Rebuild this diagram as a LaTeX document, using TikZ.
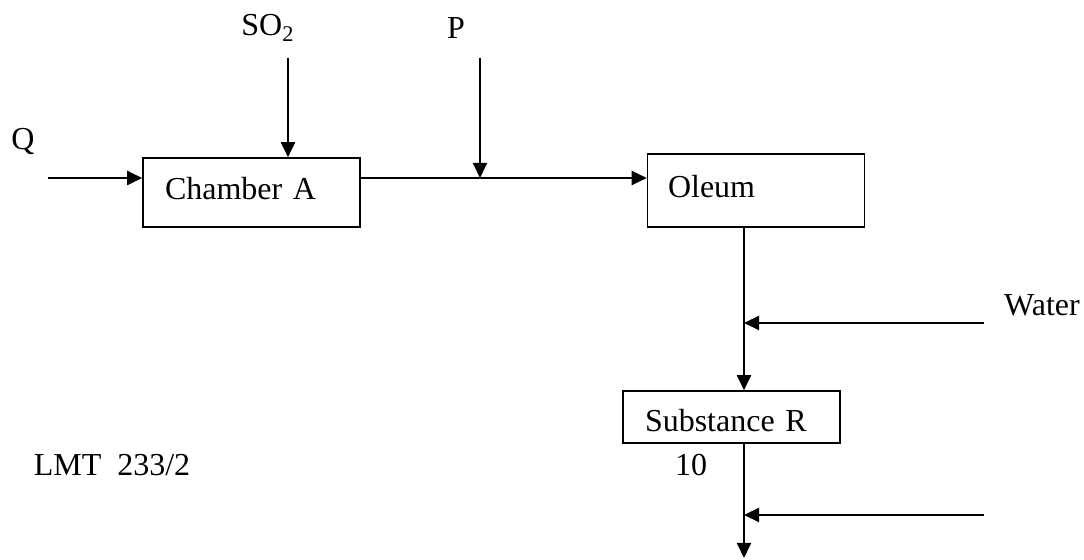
\documentclass[tikz,border=0pt]{standalone}
\usepackage{fontspec}
\setmainfont{Liberation Serif}
\usetikzlibrary{positioning,arrows.meta,calc}
\tikzset{
	>={Triangle[length=7.5pt,width=7pt]}
}

\begin{document}
\begin{tikzpicture}[
x = 0.5pt, y = -0.5pt,
line width = 1pt,
every node/.style = {
	font = \fontsize{16}{19}\selectfont,
	inner sep = 0pt
},
unit/.style = {
	rectangle,
	draw,
	line width = 0.8pt,
	align = left,
	inner xsep = 11pt,
	text width = 86.5pt,
	minimum width = 108.5pt
}
]
\useasboundingbox (0,0) rectangle (1084,560);

% boxes
\node (chamber) [unit, minimum height = 34.5pt, text depth = 4.5pt] at (251.5,192.5) {Chamber A};
\node (oleum) [unit, text width = 88pt, inner xsep = 10pt, minimum height = 36.5pt, text depth = 4.5pt] at (756,190.5) {Oleum};
\node (substance) [unit, minimum height = 26pt, text height = 15pt] at (731.5,417) {Substance R};

% labels
\node (qlabel) at (23,142) {Q};
\node (so2label) at (268,28) {SO\textsubscript{2}};
\node (plabel) at (456,28) {P};
\node (waterlabel) at (1042,305) {Water};
\node (code) at (112,465) {LMT~~233/2};
\node (pagenum) at (691,465) {10};

% stream ends
\coordinate (qin) at (48,178);
\coordinate (so2in) at (288,58);
\coordinate (pin) at (480,58);
\coordinate (pjoin) at (480,178);
\coordinate (waterin) at (984,323);
\coordinate (feedin) at (984,515);
\coordinate (outlet) at (744,558);

\draw[->] (qin) -- (qin -| chamber.west);
\draw[->] (so2in) -- (so2in |- chamber.north);
\draw[->] (pin) -- (pjoin);
\draw[->] (pjoin -| chamber.east) -- (pjoin -| oleum.west);
\draw[->] (oleum.south -| outlet) -- (outlet |- substance.north);
\draw[->] (waterin) -- (waterin -| outlet);
\draw[->] (outlet |- substance.south) -- (outlet);
\draw[->] (feedin) -- (feedin -| outlet);

\end{tikzpicture}
\end{document}
